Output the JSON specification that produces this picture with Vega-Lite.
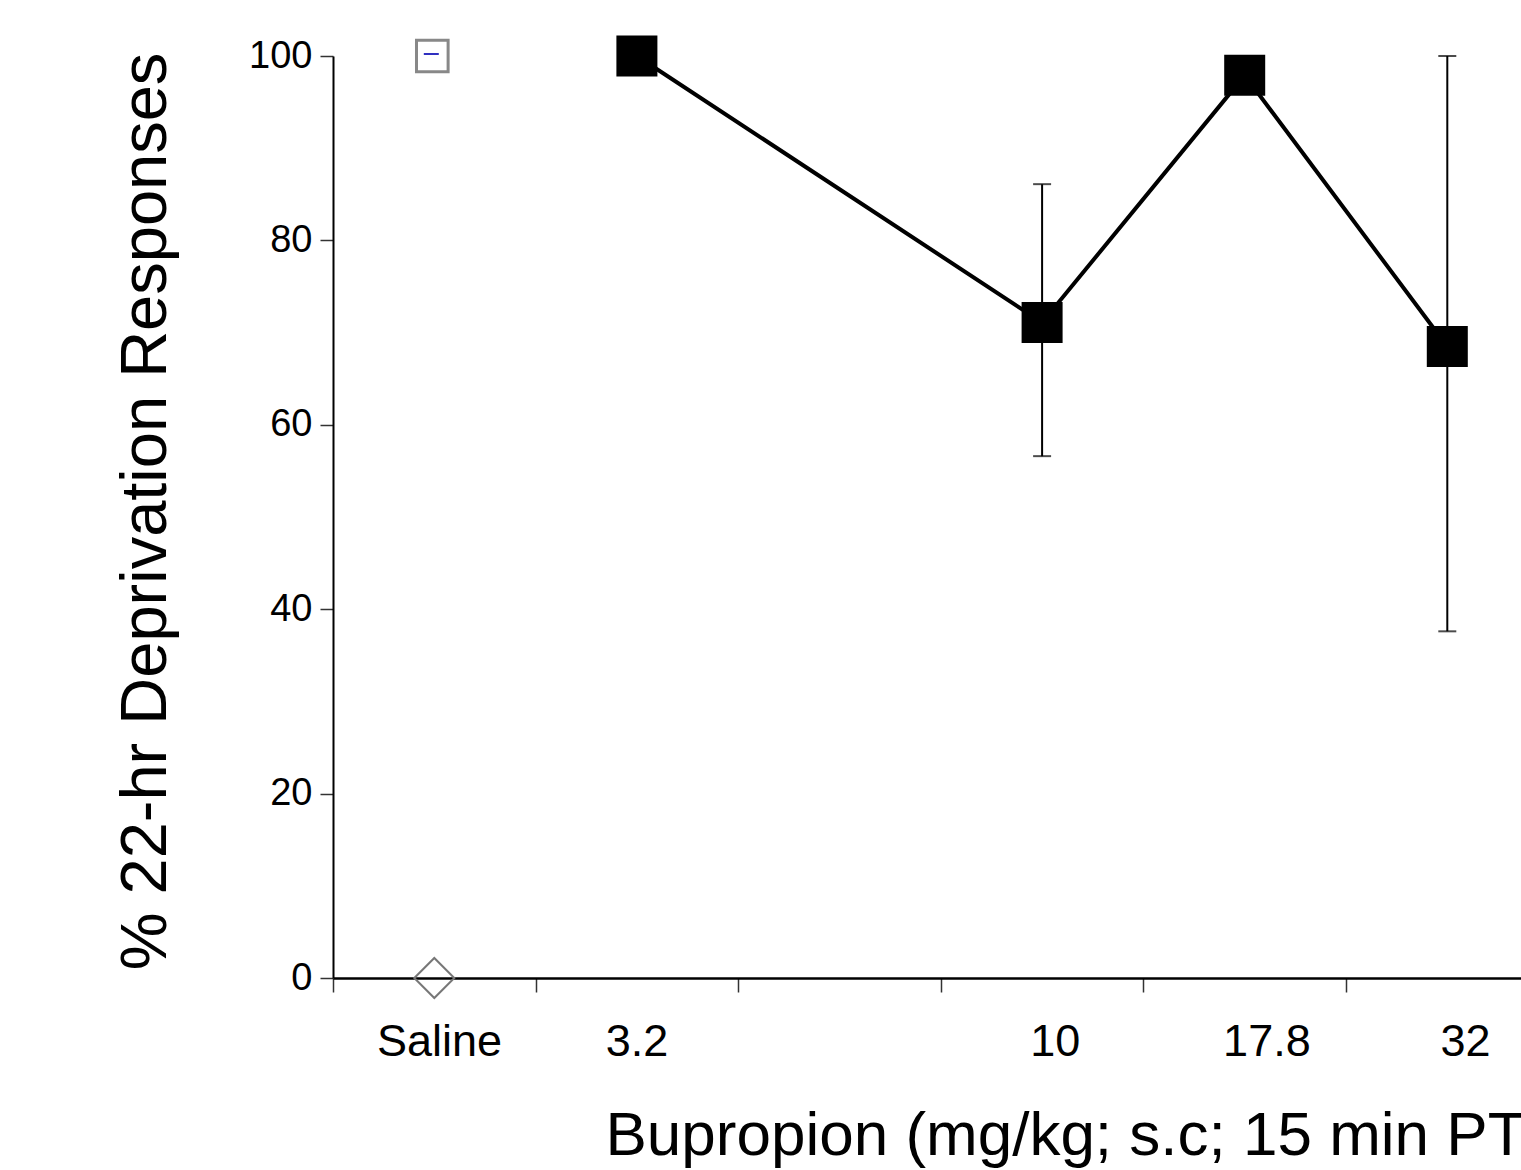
{
  "$schema": "https://vega.github.io/schema/vega-lite/v6.json",
  "width": 1188,
  "height": 922,
  "autosize": {"type": "none"},
  "padding": {"left": 333, "top": 56, "right": 0, "bottom": 192},
  "background": "white",
  "config": {"view": {"stroke": null}, "font": "Liberation Sans"},
  "datasets": {
    "drug": [
      {"dose": "3.2", "pct": 100},
      {"dose": "10", "pct": 71.1, "lo": 56.6, "hi": 86.1},
      {"dose": "17.8", "pct": 97.9},
      {"dose": "32", "pct": 68.5, "lo": 37.6, "hi": 100}
    ],
    "saline": [{"dose": "Saline", "pct": 0}],
    "salineTop": [{"dose": "Saline", "pct": 100}]
  },
  "encoding": {
    "x": {
      "field": "dose",
      "type": "ordinal",
      "scale": {"type": "point", "domain": ["Saline", "3.2", " ", "10", "17.8", "32"], "range": [0, 1215.6], "padding": 0.5},
      "axis": {
        "title": "Bupropion (mg/kg; s.c; 15 min PT)",
        "labelAngle": 0,
        "tickOffset": -101.3,
        "labelOffset": {"condition": [
          {"test": "datum.value == 'Saline'", "value": 106},
          {"test": "datum.value == '10'", "value": 114},
          {"test": "datum.value == '17.8'", "value": 123},
          {"test": "datum.value == '32'", "value": 119}
        ], "value": 101},
        "tickSize": 14,
        "tickWidth": 1.5,
        "tickColor": "#333",
        "domainColor": "black",
        "domainWidth": 2.5,
        "labelFontSize": 45,
        "labelColor": "black",
        "labelPadding": 27,
        "labelFont": "Liberation Sans",
        "titleFont": "Liberation Sans",
        "titleFontSize": 62,
        "titleFontWeight": "normal",
        "titleColor": "black",
        "titleX": 272,
        "titleY": 176,
        "titleAlign": "left",
        "titleAnchor": "start",
        "titleBaseline": "alphabetic",
        "grid": false
      }
    },
    "y": {
      "field": "pct",
      "type": "quantitative",
      "title": "% 22-hr Deprivation Responses",
      "scale": {"domain": [0, 100], "nice": false, "zero": true},
      "axis": {
        "values": [0, 20, 40, 60, 80, 100],
        "tickSize": 13,
        "tickWidth": 1.5,
        "tickColor": "#333",
        "domainColor": "black",
        "domainWidth": 2,
        "labelFontSize": 38,
        "labelColor": "black",
        "labelPadding": 8,
        "labelFont": "Liberation Sans",
        "titleFont": "Liberation Sans",
        "titleFontSize": 65,
        "titleFontWeight": "normal",
        "titleColor": "black",
        "titleX": -168,
        "titleY": 455,
        "titleAngle": 270,
        "titleAlign": "center",
        "titleBaseline": "alphabetic",
        "grid": false
      }
    }
  },
  "layer": [
    {
      "data": {"name": "drug"},
      "mark": {"type": "line", "color": "black", "strokeWidth": 4},
      "encoding": {}
    },
    {
      "data": {"name": "drug"},
      "mark": {"type": "rule", "color": "black", "strokeWidth": 2},
      "encoding": {
        "y": {"field": "lo", "type": "quantitative", "title": "% 22-hr Deprivation Responses"},
        "y2": {"field": "hi"}
      }
    },
    {
      "data": {"name": "drug"},
      "mark": {"type": "tick", "orient": "horizontal", "color": "black", "size": 18, "thickness": 2},
      "encoding": {
        "y": {"field": "lo", "type": "quantitative", "title": "% 22-hr Deprivation Responses"}
      }
    },
    {
      "data": {"name": "drug"},
      "mark": {"type": "tick", "orient": "horizontal", "color": "black", "size": 18, "thickness": 2},
      "encoding": {
        "y": {"field": "hi", "type": "quantitative", "title": "% 22-hr Deprivation Responses"}
      }
    },
    {
      "data": {"name": "drug"},
      "mark": {"type": "point", "shape": "square", "filled": true, "color": "black", "size": 1681, "opacity": 1},
      "encoding": {}
    },
    {
      "data": {"name": "saline"},
      "mark": {"type": "point", "shape": "diamond", "filled": false, "stroke": "#777", "strokeWidth": 2, "size": 1600, "opacity": 1},
      "encoding": {}
    },
    {
      "data": {"name": "salineTop"},
      "mark": {"type": "point", "shape": "square", "filled": false, "stroke": "#888", "strokeWidth": 3, "size": 1000, "opacity": 1, "xOffset": -2},
      "encoding": {}
    },
    {
      "data": {"name": "salineTop"},
      "mark": {"type": "point", "shape": "M-1,0L1,0", "filled": false, "stroke": "#3030c0", "strokeWidth": 2, "size": 225, "opacity": 1, "xOffset": -3, "yOffset": -2},
      "encoding": {}
    }
  ]
}
